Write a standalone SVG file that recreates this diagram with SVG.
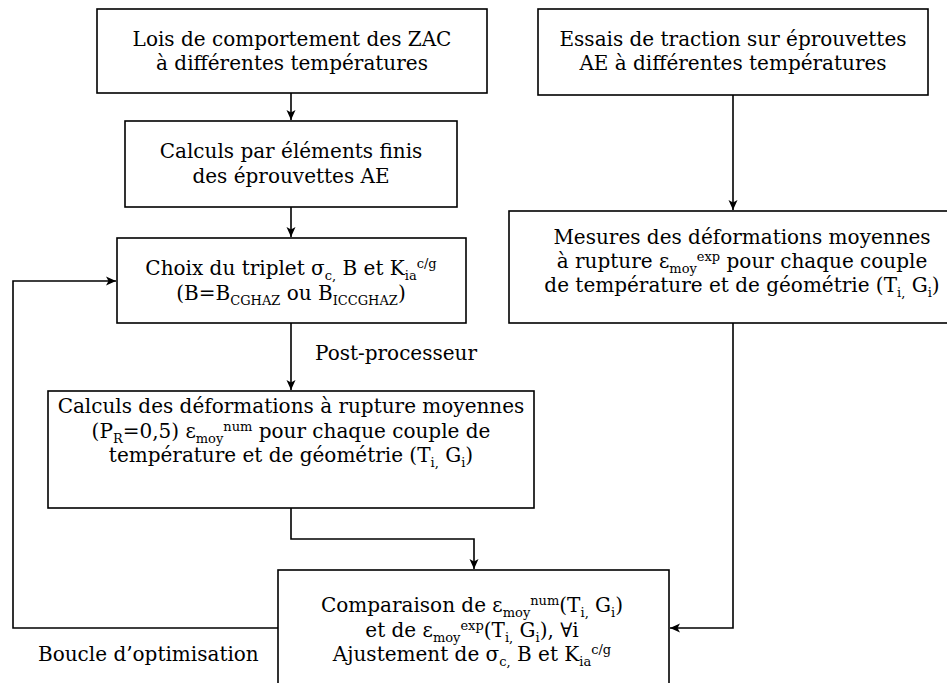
<svg xmlns="http://www.w3.org/2000/svg" width="947" height="683" viewBox="0 0 947 683">
<style>
.box{fill:#fff;stroke:#000;stroke-width:1.6}
text{font-family:"DejaVu Serif",serif;font-size:20px;fill:#000}
.c{text-anchor:middle}
.s{font-size:13px}
.ln{fill:none;stroke:#000;stroke-width:1.6}
</style>
<defs>
<marker id="ah" viewBox="0 0 10 10" refX="10" refY="5" markerWidth="10" markerHeight="10" markerUnits="userSpaceOnUse" orient="auto">
<path d="M0,0.5 L10,5 L0,9.5 L2.5,5 z" fill="#000"/>
</marker>
</defs>
<rect width="947" height="683" fill="#fff"/>
<g id="connectors">
<line class="ln" x1="291" y1="93" x2="291" y2="120" marker-end="url(#ah)"/>
<line class="ln" x1="291" y1="207" x2="291" y2="237" marker-end="url(#ah)"/>
<line class="ln" x1="291" y1="323" x2="291" y2="390" marker-end="url(#ah)"/>
<line class="ln" x1="733" y1="95" x2="733" y2="210" marker-end="url(#ah)"/>
<polyline class="ln" points="291,508 291,539 474,539 474,569" marker-end="url(#ah)"/>
<polyline class="ln" points="733,323 733,628 670,628" marker-end="url(#ah)"/>
<polyline class="ln" points="278,628 13,628 13,281 116,281" marker-end="url(#ah)"/>
<text x="315" y="360">Post-processeur</text>
<text x="38" y="661">Boucle d’optimisation</text>
</g>
<g id="lois">
<rect class="box" x="97" y="9" width="390" height="84"/>
<text class="c" x="292" y="46">Lois de comportement des ZAC</text>
<text class="c" x="292" y="70">à différentes températures</text>
</g>
<g id="essais">
<rect class="box" x="538" y="9" width="390" height="86"/>
<text class="c" x="733" y="46">Essais de traction sur éprouvettes</text>
<text class="c" x="733" y="70">AE à différentes températures</text>
</g>
<g id="calculs-ef">
<rect class="box" x="125" y="121" width="332" height="86"/>
<text class="c" x="291" y="158">Calculs par éléments finis</text>
<text class="c" x="291" y="183">des éprouvettes AE</text>
</g>
<g id="choix">
<rect class="box" x="117" y="238" width="349" height="85"/>
<text class="c" x="291" y="275">Choix du triplet σ<tspan class="s" dy="5">c,</tspan><tspan dy="-5"> B et K</tspan><tspan class="s" dy="5">ia</tspan><tspan class="s" dy="-12">c/g</tspan></text>
<text class="c" x="291" y="300">(B=B<tspan class="s" dy="5">CGHAZ</tspan><tspan dy="-5"> ou B</tspan><tspan class="s" dy="5">ICCGHAZ</tspan><tspan dy="-5">)</tspan></text>
</g>
<g id="calculs-def">
<rect class="box" x="48" y="391" width="486" height="117"/>
<text class="c" x="291" y="413">Calculs des déformations à rupture moyennes</text>
<text class="c" x="291" y="438">(P<tspan class="s" dy="5">R</tspan><tspan dy="-5">=0,5) ε</tspan><tspan class="s" dy="5">moy</tspan><tspan class="s" dy="-12">num</tspan><tspan dy="7"> pour chaque couple de</tspan></text>
<text class="c" x="291" y="462">température et de géométrie (T<tspan class="s" dy="5">i,</tspan><tspan dy="-5"> G</tspan><tspan class="s" dy="5">i</tspan><tspan dy="-5">)</tspan></text>
</g>
<g id="mesures">
<rect class="box" x="509" y="211" width="470" height="112"/>
<text class="c" x="742" y="244">Mesures des déformations moyennes</text>
<text class="c" x="742" y="268">à rupture ε<tspan class="s" dy="5">moy</tspan><tspan class="s" dy="-12">exp</tspan><tspan dy="7"> pour chaque couple</tspan></text>
<text class="c" x="742" y="292">de température et de géométrie (T<tspan class="s" dy="5">i,</tspan><tspan dy="-5"> G</tspan><tspan class="s" dy="5">i</tspan><tspan dy="-5">)</tspan></text>
</g>
<g id="comparaison">
<rect class="box" x="278" y="570" width="391" height="130"/>
<text class="c" x="472" y="612">Comparaison de ε<tspan class="s" dy="5">moy</tspan><tspan class="s" dy="-12">num</tspan><tspan dy="7">(T</tspan><tspan class="s" dy="5">i,</tspan><tspan dy="-5"> G</tspan><tspan class="s" dy="5">i</tspan><tspan dy="-5">)</tspan></text>
<text class="c" x="472" y="637">et de ε<tspan class="s" dy="5">moy</tspan><tspan class="s" dy="-12">exp</tspan><tspan dy="7">(T</tspan><tspan class="s" dy="5">i,</tspan><tspan dy="-5"> G</tspan><tspan class="s" dy="5">i</tspan><tspan dy="-5">), ∀i</tspan></text>
<text class="c" x="472" y="661">Ajustement de σ<tspan class="s" dy="5">c,</tspan><tspan dy="-5"> B et K</tspan><tspan class="s" dy="5">ia</tspan><tspan class="s" dy="-12">c/g</tspan></text>
</g>
</svg>
